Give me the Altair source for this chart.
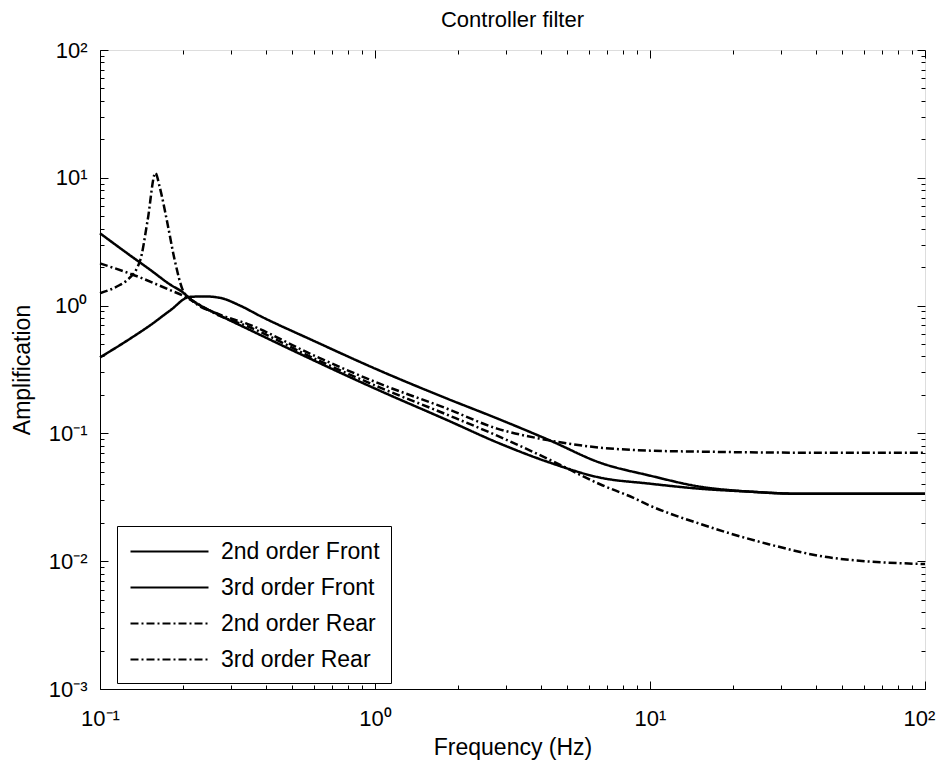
import altair as alt
import pandas as pd

# ---------------- data ----------------
series_names = ["2nd order Front", "3rd order Front", "2nd order Rear", "3rd order Rear"]

freq_2nd_front = [0.1, 0.129, 0.152, 0.18, 0.2, 0.212, 0.273, 0.343, 0.595, 1.04,
                  1.83, 2.78, 4.33, 6.58, 10, 15.2, 23.1, 35.1, 100]
amp_2nd_front = [3.68, 2.46, 1.91, 1.46, 1.27, 1.14, 0.838, 0.66, 0.375, 0.216,
                 0.127, 0.085, 0.059, 0.0451, 0.0404, 0.0369, 0.035, 0.0337, 0.0337]

freq_3rd_front = [0.1, 0.129, 0.152, 0.18, 0.212, 0.24, 0.273, 0.323, 0.382, 0.595,
                  1.04, 1.83, 2.78, 4.33, 6.58, 10, 15.2, 23.1, 35.1, 100]
amp_3rd_front = [0.393, 0.553, 0.70, 0.917, 1.17, 1.18, 1.15, 1.0, 0.83, 0.533,
                 0.31, 0.187, 0.131, 0.088, 0.059, 0.0467, 0.0383, 0.035, 0.0337, 0.0337]

freq_2nd_rear = [0.1, 0.14, 0.18, 0.2, 0.212, 0.273, 0.343, 0.595, 1.04, 1.83,
                 2.78, 4.33, 6.58, 8.67, 10, 15.2, 26.6, 46.2, 100]
amp_2nd_rear = [2.14, 1.66, 1.32, 1.2, 1.12, 0.83, 0.69, 0.39, 0.229, 0.140,
                0.096, 0.062, 0.040, 0.0314, 0.0272, 0.0196, 0.0137, 0.0106, 0.0095]

freq_3rd_rear = [0.1, 0.118, 0.125, 0.14, 0.149, 0.159, 0.165, 0.175, 0.187, 0.2,
                 0.212, 0.273, 0.343, 0.595, 1.04, 1.83, 2.78, 3.98, 6.58, 10,
                 15.2, 35.1, 100]
amp_3rd_rear = [1.25, 1.45, 1.57, 2.26, 4.65, 10.9, 8.4, 4.65, 2.26, 1.32,
                1.14, 0.85, 0.72, 0.41, 0.245, 0.156, 0.109, 0.091, 0.0774, 0.0733,
                0.072, 0.0707, 0.0707]

x_major = [0.1, 1, 10, 100]
x_labels = ["10⁻¹", "10⁰", "10¹", "10²"]
x_minor = [0.2, 0.3, 0.4, 0.5, 0.6, 0.7, 0.8, 0.9,
           2, 3, 4, 5, 6, 7, 8, 9,
           20, 30, 40, 50, 60, 70, 80, 90]
y_major = [0.001, 0.01, 0.1, 1, 10, 100]
y_labels = ["10⁻³", "10⁻²", "10⁻¹", "10⁰", "10¹", "10²"]
y_minor = [0.002, 0.003, 0.004, 0.005, 0.006, 0.007, 0.008, 0.009,
           0.02, 0.03, 0.04, 0.05, 0.06, 0.07, 0.08, 0.09,
           0.2, 0.3, 0.4, 0.5, 0.6, 0.7, 0.8, 0.9,
           2, 3, 4, 5, 6, 7, 8, 9,
           20, 30, 40, 50, 60, 70, 80, 90]

dash_patterns = [[1, 0], [1, 0], [8, 3, 2, 3], [8, 3, 2, 3]]

# ---------------- build table ----------------
rows = []
for name, fs, vs in zip(series_names,
                        [freq_2nd_front, freq_3rd_front, freq_2nd_rear, freq_3rd_rear],
                        [amp_2nd_front, amp_3rd_front, amp_2nd_rear, amp_3rd_rear]):
    for f, v in zip(fs, vs):
        rows.append({"series": name, "f": f, "a": v})
df = pd.DataFrame(rows)

W, H = 825, 639
FONT = "Liberation Sans"

xscale = alt.Scale(type="log", domain=[0.1, 100], nice=False)
yscale = alt.Scale(type="log", domain=[0.001, 100], nice=False)


def label_expr(labels, offset):
    arr = "[" + ",".join("'" + s + "'" for s in labels) + "]"
    return f"{arr}[round(log(datum.value)/LN10)+{offset}]"


base = alt.Chart(df)

lines = base.mark_line(strokeWidth=2.5, interpolate="monotone", color="black").encode(
    x=alt.X("f:Q", scale=xscale,
            axis=alt.Axis(orient="bottom", values=x_major, labelExpr=label_expr(x_labels, 1),
                          ticks=False, domain=True, domainColor="black", grid=False,
                          labelFont=FONT, labelFontSize=22, labelColor="black",
                          labelPadding=19, labelFlush=False, labelOverlap=False,
                          labelOffset={"condition": {"test": "datum.value >= 100", "value": -6},
                                       "value": 0},
                          title="Frequency (Hz)", titleFont=FONT, titleFontSize=23,
                          titleFontWeight="normal", titleColor="black", titlePadding=7)),
    y=alt.Y("a:Q", scale=yscale,
            axis=alt.Axis(orient="left", values=y_major, labelExpr=label_expr(y_labels, 3),
                          ticks=False, domain=True, domainColor="black", grid=False,
                          labelFont=FONT, labelFontSize=22, labelColor="black",
                          labelPadding=13, labelFlush=False, labelOverlap=False,
                          title="Amplification", titleFont=FONT, titleFontSize=23,
                          titleFontWeight="normal", titleColor="black", titlePadding=14)),
    strokeDash=alt.StrokeDash(
        "series:N",
        scale=alt.Scale(domain=series_names, range=dash_patterns),
        legend=alt.Legend(title=None, orient="none", legendX=17, legendY=476,
                          symbolType="M-3,0H3", symbolSize=676, symbolStrokeWidth=2.2,
                          symbolStrokeColor="black", symbolFillColor="transparent",
                          symbolOffset=27,
                          labelFont=FONT, labelFontSize=23,
                          labelColor="black", labelOffset=37, rowPadding=9,
                          padding=11, strokeColor="black", fillColor="white",
                          cornerRadius=0)),
    detail="series:N",
)


def tick_layer(xorient, xoff, xvals, yorient, yoff, yvals, size):
    return base.mark_point(opacity=0).encode(
        x=alt.X("f:Q", scale=xscale,
                axis=alt.Axis(orient=xorient, offset=xoff, values=xvals, tickSize=size,
                              tickColor="black", labels=False, domain=False, grid=False,
                              title=None)),
        y=alt.Y("a:Q", scale=yscale,
                axis=alt.Axis(orient=yorient, offset=yoff, values=yvals, tickSize=size,
                              tickColor="black", labels=False, domain=False, grid=False,
                              title=None)),
    )


ticks1 = tick_layer("top", -H, x_major, "right", -W, y_major, 8)
ticks2 = tick_layer("bottom", -H, x_major, "left", -W, y_major, 8)
ticks3 = tick_layer("top", -H, x_minor, "right", -W, y_minor, 4)
ticks4 = tick_layer("bottom", -H, x_minor, "left", -W, y_minor, 4)

chart = alt.layer(lines, ticks1, ticks2, ticks3, ticks4).resolve_axis(
    x="independent", y="independent"
).properties(
    width=W, height=H,
    title=alt.TitleParams("Controller filter", font=FONT, fontSize=22, fontWeight="normal",
                          color="black", anchor="middle", offset=7),
    autosize=alt.AutoSizeParams(type="none"),
    padding={"left": 92, "top": 42, "right": 12, "bottom": 72},
).configure_view(stroke="black", strokeWidth=1).configure(background="white")

chart.save("out.html", embed_options={"renderer": "svg", "actions": False})
